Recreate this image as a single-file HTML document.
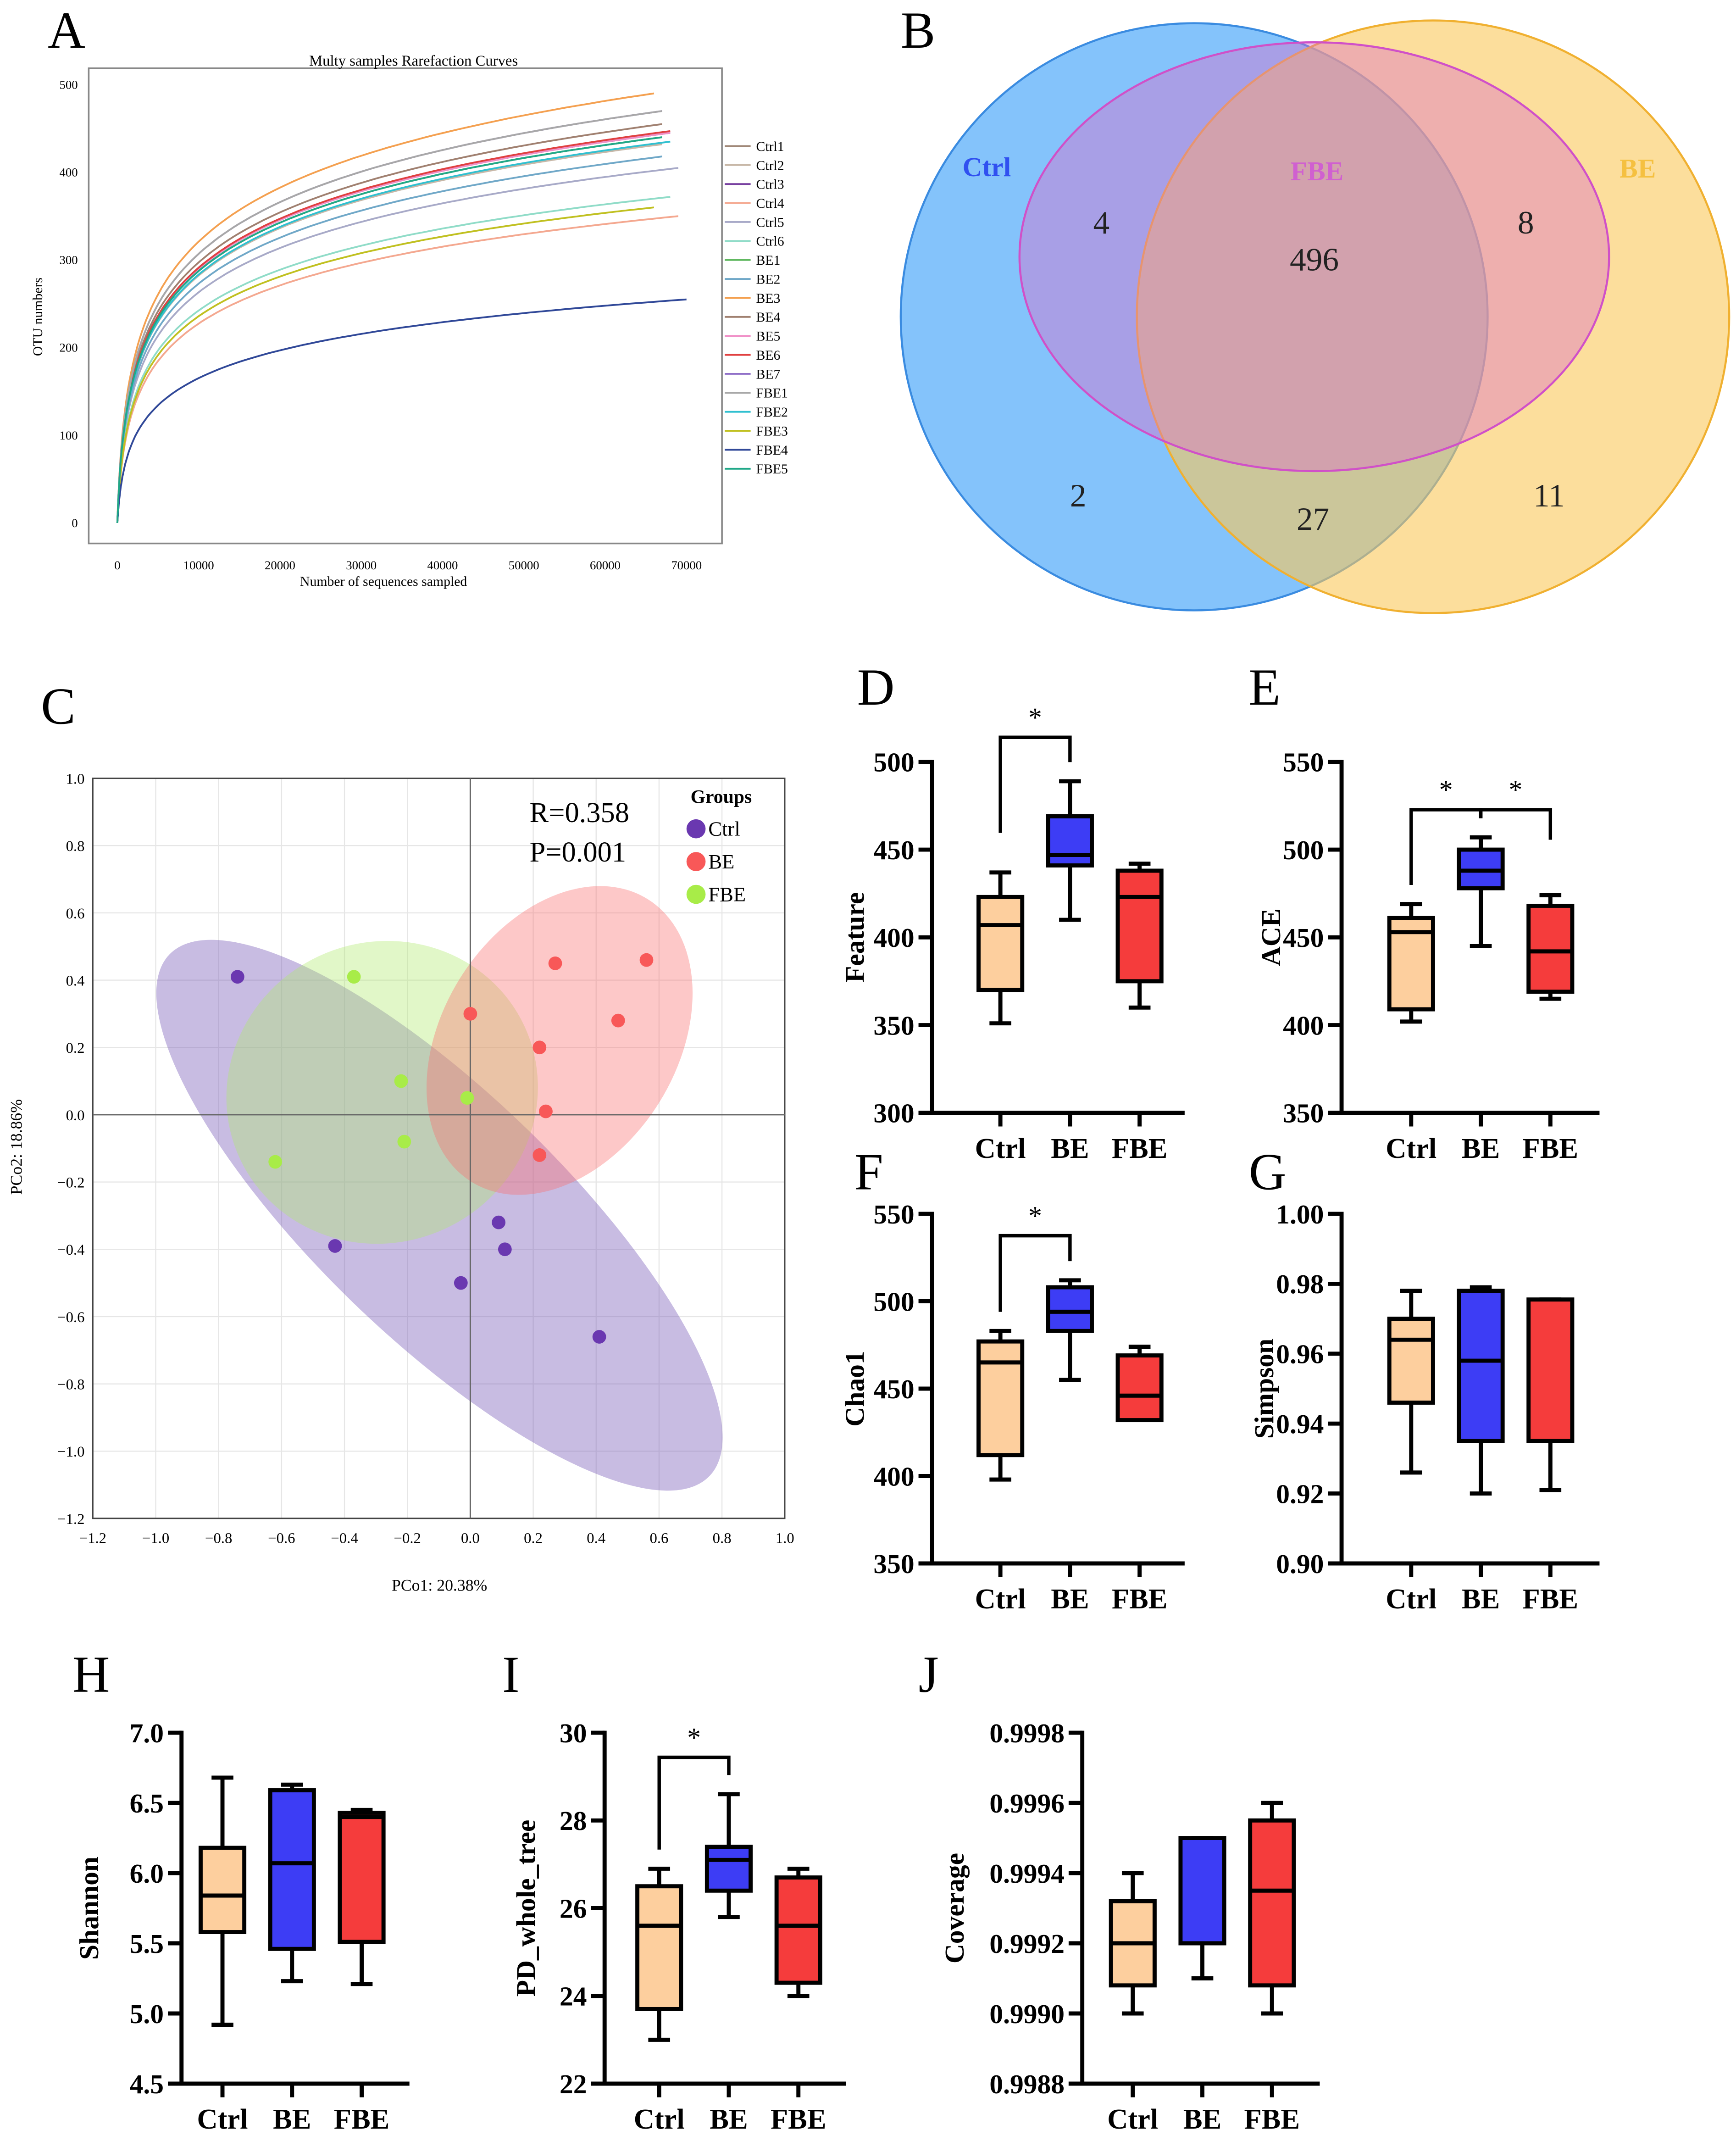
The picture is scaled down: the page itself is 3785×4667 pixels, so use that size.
<!DOCTYPE html>
<html><head><meta charset="utf-8"><style>
html,body{margin:0;padding:0;background:#fff}
svg{display:block}
text{font-family:"Liberation Serif",serif}
</style></head><body>
<svg id="fig" width="3785" height="4667" viewBox="0 0 1272 1568" preserveAspectRatio="none" xmlns="http://www.w3.org/2000/svg">
<rect width="1280" height="1578" fill="#fff"/>
<g id="gA"></g>
<g id="gB">
  <text x="35" y="35" font-size="38">A</text>
  <text x="660" y="35" font-size="38">B</text>
  <circle cx="875" cy="232" r="215" fill="rgba(80,170,250,0.7)" stroke="#3a8be0" stroke-width="1.5"/>
  <circle cx="1050" cy="232" r="217" fill="rgba(250,200,90,0.6)" stroke="#f0b030" stroke-width="1.5"/>
  <ellipse cx="963" cy="188" rx="216" ry="157" fill="rgba(220,110,200,0.42)" stroke="#d050c8" stroke-width="1.5"/>
  <text x="723" y="129" font-size="20" font-weight="bold" fill="#3050f0" text-anchor="middle">Ctrl</text>
  <text x="965" y="132" font-size="20" font-weight="bold" fill="#d060d0" text-anchor="middle">FBE</text>
  <text x="1200" y="130" font-size="20" font-weight="bold" fill="#f5c040" text-anchor="middle">BE</text>
  <g font-size="24" text-anchor="middle" fill="#222">
  <text x="807" y="171">4</text>
  <text x="963" y="198">496</text>
  <text x="1118" y="171">8</text>
  <text x="790" y="371">2</text>
  <text x="962" y="388">27</text>
  <text x="1135" y="371">11</text>
  </g>
</g>
<g id="gC"></g>
<g id="gBox"></g>
</svg>
<script>
const NS="http://www.w3.org/2000/svg";
function mk(parent,tag,attrs,txt){const e=document.createElementNS(NS,tag);for(const k in attrs)e.setAttribute(k,attrs[k]);if(txt!==undefined)e.textContent=txt;parent.appendChild(e);return e;}

/* ---------- Panel A data ---------- */
const rareSamples=["Ctrl1","Ctrl2","Ctrl3","Ctrl4","Ctrl5","Ctrl6","BE1","BE2","BE3","BE4","BE5","BE6","BE7","FBE1","FBE2","FBE3","FBE4","FBE5"];
const rareFinalOTU=[440,432,445,350,405,372,440,418,490,455,445,447,470,470,435,360,255,440];
const rareDepth=[67000,67000,68000,69000,69000,68000,67000,67000,66000,67000,68000,68000,67000,67000,68000,66000,70000,67000];
const rareColors=["#a08878","#c8b8a8","#7840a0","#f4a890","#a8aac8","#90dcc8","#60b860","#70a8c8","#f4a050","#a08070","#f090c8","#e04040","#9070c8","#a8a8a8","#30c0d0","#c0c020","#304898","#20a888"];
const rareXTicks=[0,10000,20000,30000,40000,50000,60000,70000];
const rareYTicks=[0,100,200,300,400,500];
(function(){
 const g=document.getElementById('gA');
 const ax=v=>86+(v/70000)*417, ay=v=>383-v*0.642;
 const fr=mk(g,'rect',{x:65,y:50,width:464,height:348,fill:'none',stroke:'#888','stroke-width':1.2});
 
 
 const t=mk(g,'text',{x:303,y:48,'font-size':11,'text-anchor':'middle'},'Multy samples Rarefaction Curves');
 
 
 rareXTicks.forEach(v=>{const e=mk(g,'text',{x:ax(v),y:417,'font-size':9,'text-anchor':'middle'},String(v));
  
  });
 rareYTicks.forEach(v=>{const e=mk(g,'text',{x:57,y:ay(v)+3,'font-size':9,'text-anchor':'end'},String(v));
  
  });
 const xl=mk(g,'text',{x:281,y:429,'font-size':10,'text-anchor':'middle'},'Number of sequences sampled');
 
 
 const yl=mk(g,'text',{x:31,y:232,'font-size':10,'text-anchor':'middle',transform:'rotate(-90 31 232)'},'OTU numbers');
 
 
 rareSamples.forEach((s,i)=>{
  const c=300, end=rareDepth[i], fin=rareFinalOTU[i];
  let d='';
  for(let k=0;k<=100;k++){const x=end*Math.pow(k/100,2.5);const y=fin*Math.log(1+x/c)/Math.log(1+end/c);d+=(k?'L':'M')+ax(x).toFixed(1)+' '+ay(y).toFixed(1);}
  const p=mk(g,'path',{d:d,fill:'none',stroke:rareColors[i],'stroke-width':1.3});
  
  
  const ly=107+i*13.9;
  const ll=mk(g,'line',{x1:531,x2:550,y1:ly,y2:ly,stroke:rareColors[i],'stroke-width':1.3});
  
  
  const lt=mk(g,'text',{x:554,y:ly+3.5,'font-size':10},s);
  
  
 });
})();

/* ---------- Panel C data ---------- */
const pcoaGroups=["Ctrl","BE","FBE"];
const pcoaColors=["#6a38b0","#f85858","#a8ec48"];
const ctrlX=[-0.74,-0.43,-0.03,0.09,0.11,0.41];
const ctrlY=[0.41,-0.39,-0.50,-0.32,-0.40,-0.66];
const beX=[0.00,0.27,0.56,0.47,0.22,0.24,0.22];
const beY=[0.30,0.45,0.46,0.28,0.20,0.01,-0.12];
const fbeX=[-0.37,-0.22,-0.62,-0.21,-0.01];
const fbeY=[0.41,0.10,-0.14,-0.08,0.05];
const pcoaTicks=[-1.2,-1.0,-0.8,-0.6,-0.4,-0.2,0.0,0.2,0.4,0.6,0.8,1.0];
(function(){
 const g=document.getElementById('gC');
 const px=v=>68+(v+1.2)*230.5, py=v=>570+(1.0-v)*246.4;
 const L=mk(g,'text',{x:30,y:530,'font-size':38},'C');
 
 
 pcoaTicks.forEach(v=>{
  const gx=mk(g,'line',{x1:px(v),x2:px(v),y1:570,y2:1112,stroke:'#e6e6e6','stroke-width':0.8});
  
  
  const gy=mk(g,'line',{x1:68,x2:575,y1:py(v),y2:py(v),stroke:'#e6e6e6','stroke-width':0.8});
  
  
  const lab=(v<0?'\u2212':'')+Math.abs(v).toFixed(1);
  const tx=mk(g,'text',{x:px(v),y:1130,'font-size':11,'text-anchor':'middle'},lab);
  
  
  const ty=mk(g,'text',{x:62,y:py(v)+4,'font-size':11,'text-anchor':'end'},lab);
  
  
 });
 const fr=mk(g,'rect',{x:68,y:570,width:507,height:542,fill:'none',stroke:'#444','stroke-width':1});
 
 
 const ells=[
  {n:'ellipse-ctrl',cx:322,cy:890,rx:275,ry:90,a:44,f:'rgba(125,95,185,0.42)'},
  {n:'ellipse-fbe',cx:280,cy:800,rx:115,ry:110,a:-25,f:'rgba(175,235,110,0.38)'},
  {n:'ellipse-be',cx:410,cy:762,rx:86,ry:122,a:32,f:'rgba(250,110,110,0.38)'}];
 ells.forEach(e=>{const el=mk(g,'ellipse',{cx:e.cx,cy:e.cy,rx:e.rx,ry:e.ry,fill:e.f,transform:`rotate(${e.a} ${e.cx} ${e.cy})`});
  
  });
 const a1=mk(g,'line',{x1:px(0),x2:px(0),y1:570,y2:1112,stroke:'#666','stroke-width':1});
 
 
 const a2=mk(g,'line',{x1:68,x2:575,y1:py(0),y2:py(0),stroke:'#666','stroke-width':1});
 
 
 const sets=[[ctrlX,ctrlY],[beX,beY],[fbeX,fbeY]];
 sets.forEach((s,gi)=>s[0].forEach((x,i)=>{
  const c=mk(g,'circle',{cx:px(x),cy:py(s[1][i]),r:5,fill:pcoaColors[gi]});
  
  }));
 const r=mk(g,'text',{x:388,y:602,'font-size':21},'R=0.358');
 
 
 const p=mk(g,'text',{x:388,y:631,'font-size':21},'P=0.001');
 
 
 const lg=mk(g,'text',{x:506,y:588,'font-size':14,'font-weight':'bold'},'Groups');
 
 
 pcoaGroups.forEach((n,i)=>{
  const c=mk(g,'circle',{cx:510,cy:607+i*24,r:7,fill:pcoaColors[i]});
  
  
  const t=mk(g,'text',{x:519,y:612+i*24,'font-size':15},n);
  
  });
 const xl=mk(g,'text',{x:322,y:1165,'font-size':12,'text-anchor':'middle'},'PCo1: 20.38%');
 
 
 const yl=mk(g,'text',{x:16,y:840,'font-size':12,'text-anchor':'middle',transform:'rotate(-90 16 840)'},'PCo2: 18.86%');
 
 
})();

/* ---------- Box plot data ---------- */
const boxCats=["Ctrl","BE","FBE"];
const boxColors=["#fdcf9e","#3d3df5","#f53c3c"];
const featureBoxes=[[351,370,407,423,437],[410,441,447,469,489],[360,375,423,438,442]];
const aceBoxes=[[402,409,453,461,469],[445,478,488,500,507],[415,419,442,468,474]];
const chao1Boxes=[[398,412,465,477,483],[455,483,494,508,512],[432,432,446,469,474]];
const simpsonBoxes=[[0.926,0.946,0.964,0.970,0.978],[0.920,0.935,0.958,0.978,0.979],[0.921,0.935,0.935,0.9755,0.9755]];
const shannonBoxes=[[4.92,5.58,5.84,6.18,6.68],[5.23,5.46,6.07,6.59,6.63],[5.21,5.51,6.40,6.43,6.45]];
const pdBoxes=[[23.0,23.7,25.6,26.5,26.9],[25.8,26.4,27.1,27.4,28.6],[24.0,24.3,25.6,26.7,26.9]];
const coverageBoxes=[[0.9990,0.99908,0.9992,0.99932,0.9994],[0.9991,0.9992,0.9992,0.9995,0.9995],[0.9990,0.99908,0.99935,0.99955,0.9996]];
const featureTicks=["300","350","400","450","500"];
const aceTicks=["350","400","450","500","550"];
const chao1Ticks=["350","400","450","500","550"];
const simpsonTicks=["0.90","0.92","0.94","0.96","0.98","1.00"];
const shannonTicks=["4.5","5.0","5.5","6.0","6.5","7.0"];
const pdTicks=["22","24","26","28","30"];
const coverageTicks=["0.9988","0.9990","0.9992","0.9994","0.9996","0.9998"];

const panels=[
 {id:'d',letter:'D',lx:628,ly:516,data:featureBoxes,ticks:featureTicks,ax:683,y0:815,y1:558,xend:868,cx:[733,784,835],title:'Feature',tx:633,sig:[[0,1,540]]},
 {id:'e',letter:'E',lx:915,ly:516,data:aceBoxes,ticks:aceTicks,ax:983,y0:815,y1:558,xend:1172,cx:[1034,1085,1136],title:'ACE',tx:938,sig:[[0,1,593],[1,2,593]]},
 {id:'f',letter:'F',lx:626,ly:871,data:chao1Boxes,ticks:chao1Ticks,ax:683,y0:1145,y1:889,xend:868,cx:[733,784,835],title:'Chao1',tx:633,sig:[[0,1,905]]},
 {id:'g',letter:'G',lx:915,ly:871,data:simpsonBoxes,ticks:simpsonTicks,ax:983,y0:1145,y1:889,xend:1172,cx:[1034,1085,1136],title:'Simpson',tx:933,sig:[]},
 {id:'h',letter:'H',lx:53,ly:1239,data:shannonBoxes,ticks:shannonTicks,ax:133,y0:1526,y1:1269,xend:300,cx:[163,214,265],title:'Shannon',tx:72,sig:[]},
 {id:'i',letter:'I',lx:368,ly:1239,data:pdBoxes,ticks:pdTicks,ax:443,y0:1526,y1:1269,xend:620,cx:[483,534,585],title:'PD_whole_tree',tx:392,sig:[[0,1,1287]]},
 {id:'j',letter:'J',lx:673,ly:1239,data:coverageBoxes,ticks:coverageTicks,ax:793,y0:1526,y1:1269,xend:967,cx:[830,881,932],title:'Coverage',tx:706,sig:[]}
];
(function(){
 const root=document.getElementById('gBox');
 panels.forEach(P=>{
  const g=mk(root,'g',{});
  
  
  const tmin=parseFloat(P.ticks[0]), tmax=parseFloat(P.ticks[P.ticks.length-1]);
  const Y=v=>P.y0-(v-tmin)/(tmax-tmin)*(P.y0-P.y1);
  const L=mk(g,'text',{x:P.lx,y:P.ly,'font-size':38},P.letter);
  
  
  const ya=mk(g,'line',{x1:P.ax,x2:P.ax,y1:P.y1-1.5,y2:P.y0+1.5,stroke:'#000','stroke-width':3});
  
  
  const xa=mk(g,'line',{x1:P.ax-10,x2:P.xend,y1:P.y0,y2:P.y0,stroke:'#000','stroke-width':3});
  
  
  P.ticks.forEach(t=>{const y=Y(parseFloat(t));
   const tk=mk(g,'line',{x1:P.ax-10,x2:P.ax,y1:y,y2:y,stroke:'#000','stroke-width':3});
   
   
   const tl=mk(g,'text',{x:P.ax-13,y:y+7,'font-size':20,'font-weight':'bold','text-anchor':'end'},t);
   
   });
  const tt=mk(g,'text',{x:P.tx,y:(P.y0+P.y1)/2,'font-size':20,'font-weight':'bold','text-anchor':'middle',transform:`rotate(-90 ${P.tx} ${(P.y0+P.y1)/2})`},P.title);
  
  
  boxCats.forEach((c,i)=>{
   const cx=P.cx[i], d=P.data[i];
   const tk=mk(g,'line',{x1:cx,x2:cx,y1:P.y0,y2:P.y0+10,stroke:'#000','stroke-width':3});
   
   
   const cl=mk(g,'text',{x:cx,y:P.y0+33,'font-size':21,'font-weight':'bold','text-anchor':'middle'},c);
   
   
   const w=mk(g,'path',{d:`M${cx} ${Y(d[0])}V${Y(d[1])}M${cx} ${Y(d[3])}V${Y(d[4])}M${cx-8} ${Y(d[0])}H${cx+8}M${cx-8} ${Y(d[4])}H${cx+8}`,stroke:'#000','stroke-width':3,fill:'none'});
   
   
   const b=mk(g,'rect',{x:cx-16,y:Y(d[3]),width:32,height:Math.max(0.5,Y(d[1])-Y(d[3])),fill:boxColors[i],stroke:'#000','stroke-width':3});
   
   
   const m=mk(g,'line',{x1:cx-16,x2:cx+16,y1:Y(d[2]),y2:Y(d[2]),stroke:'#000','stroke-width':3});
   
   
  });
  P.sig.forEach(s=>{
   const a=P.cx[s[0]], b=P.cx[s[1]], y=s[2];
   const la=Math.min(Y(P.data[s[0]][4])-14, y+70), lb=Math.min(Y(P.data[s[1]][4])-14, y+22);
   const br=mk(g,'path',{d:`M${a} ${la}V${y}H${b}V${lb}`,stroke:'#000','stroke-width':2.5,fill:'none'});
   
   
   const st=mk(g,'text',{x:(a+b)/2,y:y-8,'font-size':20,'text-anchor':'middle'},'*');
   
   
  });
 });
})();
</script>
</body></html>
